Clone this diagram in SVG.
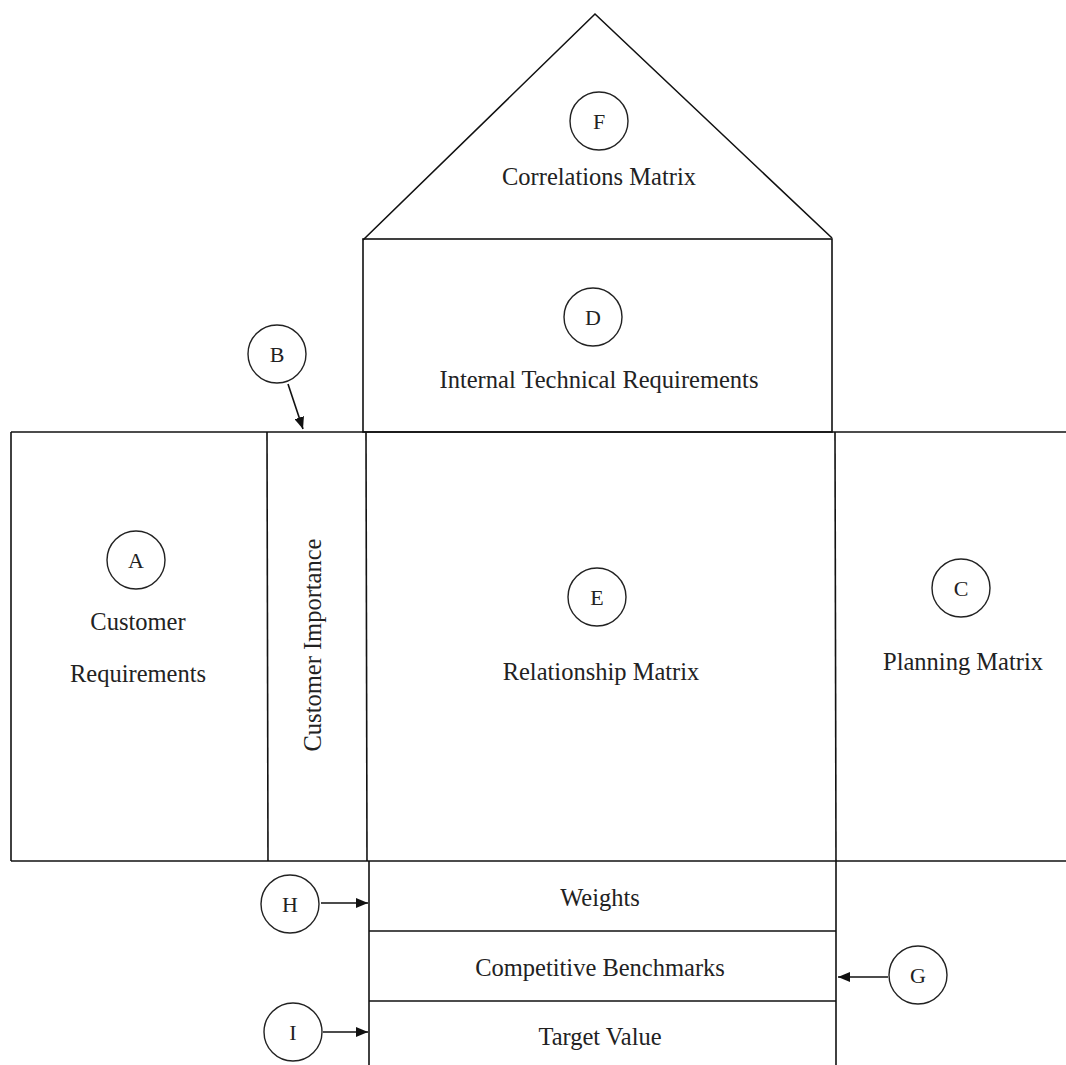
<svg xmlns="http://www.w3.org/2000/svg" width="1066" height="1065" viewBox="0 0 1066 1065">
<defs>
<marker id="ah" viewBox="0 0 12 10" refX="12" refY="5" markerWidth="12" markerHeight="10" markerUnits="userSpaceOnUse" orient="auto">
<path d="M0,0 L12,5 L0,10 Z" fill="#111"/>
</marker>
<style>
.ln{stroke:#111;stroke-width:1.6;fill:none}
.cir{stroke:#222;stroke-width:1.4;fill:none}
.t{font-family:"Liberation Serif","Times New Roman",serif;font-size:24.5px;fill:#222;text-anchor:middle}
.l{font-family:"Liberation Serif","Times New Roman",serif;font-size:22px;fill:#222;text-anchor:middle}
.ar{stroke:#111;stroke-width:1.6;fill:none;marker-end:url(#ah)}
</style>
</defs>
<rect width="1066" height="1065" fill="#fff"/>

<g id="frame">
<line class="ln" x1="11" y1="432" x2="1066" y2="432"/>
<line class="ln" x1="11" y1="861" x2="1066" y2="861"/>
<line class="ln" x1="11" y1="432" x2="11" y2="861"/>
</g>

<g id="roof-F">
<polyline class="ln" points="363,240 595,14 832,238"/>
<circle class="cir" cx="599" cy="121" r="29"/>
<text class="l" x="599" y="129">F</text>
<text class="t" x="599" y="185">Correlations Matrix</text>
</g>

<g id="box-D">
<rect class="ln" x="363" y="239" width="469" height="193"/>
<circle class="cir" cx="593" cy="317" r="29"/>
<text class="l" x="593" y="325">D</text>
<text class="t" x="599" y="388">Internal Technical Requirements</text>
</g>

<g id="box-A">
<circle class="cir" cx="136" cy="560" r="29"/>
<text class="l" x="136" y="568">A</text>
<text class="t" x="138" y="630">Customer</text>
<text class="t" x="138" y="682">Requirements</text>
</g>

<g id="box-B">
<line class="ln" x1="267" y1="432" x2="268" y2="861"/>
<text class="t" transform="translate(321,645) rotate(-90)">Customer Importance</text>
<circle class="cir" cx="277" cy="354" r="29"/>
<text class="l" x="277" y="362">B</text>
</g>

<g id="box-E">
<line class="ln" x1="366" y1="432" x2="367" y2="861"/>
<line class="ln" x1="835" y1="432" x2="836" y2="861"/>
<circle class="cir" cx="597" cy="597" r="29"/>
<text class="l" x="597" y="605">E</text>
<text class="t" x="601" y="680">Relationship Matrix</text>
</g>

<g id="box-C">
<circle class="cir" cx="961" cy="588" r="29"/>
<text class="l" x="961" y="596">C</text>
<text class="t" x="963" y="670">Planning Matrix</text>
</g>

<g id="bottom">
<line class="ln" x1="369" y1="861" x2="369" y2="1065"/>
<line class="ln" x1="836" y1="861" x2="836" y2="1065"/>
<line class="ln" x1="369" y1="931" x2="836" y2="931"/>
<line class="ln" x1="369" y1="1001" x2="836" y2="1001"/>
<text class="t" x="600" y="906">Weights</text>
<text class="t" x="600" y="976">Competitive Benchmarks</text>
<text class="t" x="600" y="1045">Target Value</text>
</g>

<g id="node-H">
<circle class="cir" cx="290" cy="904" r="29"/>
<text class="l" x="290" y="912">H</text>
</g>
<g id="node-I">
<circle class="cir" cx="293" cy="1032" r="29"/>
<text class="l" x="293" y="1040">I</text>
</g>
<g id="node-G">
<circle class="cir" cx="918" cy="975" r="29"/>
<text class="l" x="918" y="983">G</text>
</g>

<g id="connectors">
<line class="ar" x1="288" y1="384" x2="303" y2="429"/>
<line class="ar" x1="321" y1="903" x2="368" y2="903"/>
<line class="ar" x1="323" y1="1032" x2="368" y2="1032"/>
<line class="ar" x1="888" y1="977" x2="838" y2="977"/>
</g>
</svg>
